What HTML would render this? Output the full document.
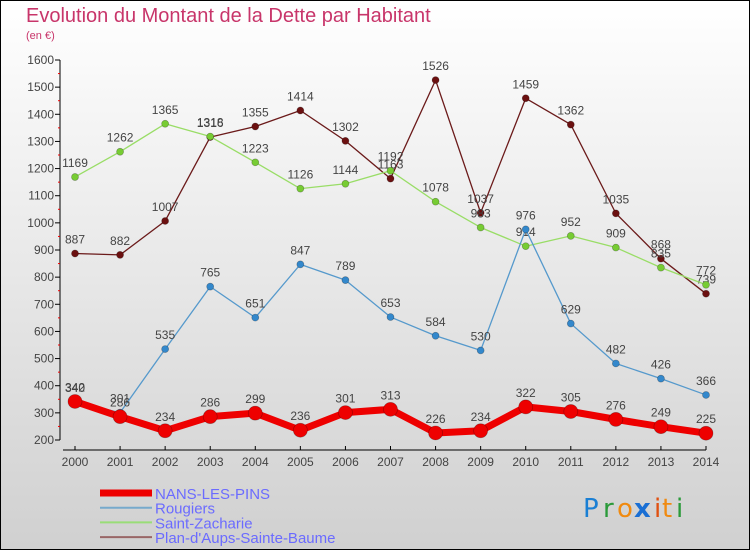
<!DOCTYPE html>
<html><head><meta charset="utf-8"><style>
html,body{margin:0;padding:0}
body{width:750px;height:550px;overflow:hidden;font-family:"Liberation Sans",sans-serif}
</style></head><body>
<svg id="c" width="750" height="550" xmlns="http://www.w3.org/2000/svg">
<defs><linearGradient id="bg" x1="0" y1="0" x2="0" y2="1"><stop offset="0" stop-color="#ffffff"/><stop offset="1" stop-color="#d0d0d0"/></linearGradient></defs>
<rect x="0.5" y="0.5" width="749" height="549" fill="url(#bg)" stroke="#000"/>
<text x="26" y="22" font-size="20" fill="#c8356a">Evolution du Montant de la Dette par Habitant</text>
<text x="26" y="39" font-size="11" fill="#c8356a">(en €)</text>
<g id="axes"></g><g id="series"></g><g id="legend"></g>
<g font-size="26" font-family="'DejaVu Sans',sans-serif">
<text x="583" y="517" fill="#1a7fd4">P</text><text x="603" y="517" fill="#2a9a3a">r</text><text x="617" y="517" fill="#f08a10">o</text><text x="634" y="517" fill="#1a6fd4" font-weight="bold">x</text><text x="654" y="517" fill="#e05010">i</text><text x="662" y="517" fill="#f08a10">t</text><text x="676" y="517" fill="#2a9a3a">i</text>
</g>
</svg>
<script>
const years=[2000,2001,2002,2003,2004,2005,2006,2007,2008,2009,2010,2011,2012,2013,2014];
const yTicks=[200,300,400,500,600,700,800,900,1000,1100,1200,1300,1400,1500,1600];
const nans=[342,286,234,286,299,236,301,313,226,234,322,305,276,249,225];
const rougiers=[340,301,535,765,651,847,789,653,584,530,976,629,482,426,366];
const stZacharie=[1169,1262,1365,1318,1223,1126,1144,1192,1078,983,914,952,909,835,772];
const planAups=[887,882,1007,1316,1355,1414,1302,1163,1526,1037,1459,1362,1035,868,739];
const NS="http://www.w3.org/2000/svg";
const X=i=>75+i*(706-75)/14;
const Y=v=>440-(v-200)*(380/1400);
function mk(t,a,p){const e=document.createElementNS(NS,t);for(const k in a)e.setAttribute(k,a[k]);p.appendChild(e);return e;}
const ax=document.getElementById('axes');
let yl=mk('line',{x1:60,y1:60,x2:60,y2:440,stroke:'#000'},ax);


yTicks.forEach(v=>{
 mk('line',{x1:55,y1:Y(v),x2:60,y2:Y(v),stroke:'#000'},ax);
 if(v<1600) mk('line',{x1:58,y1:Y(v+50),x2:60,y2:Y(v+50),stroke:'#e00'},ax);
 const t=mk('text',{x:54,y:Y(v)+4,'text-anchor':'end','font-size':12,fill:'#444'},ax);t.textContent=v;
 
 
});
let xl=mk('line',{x1:63,y1:450,x2:706,y2:450,stroke:'#000'},ax);


years.forEach((y,i)=>{
 mk('line',{x1:X(i),y1:446,x2:X(i),y2:450,stroke:'#000'},ax);
 const t=mk('text',{x:X(i),y:466,'text-anchor':'middle','font-size':12,fill:'#444'},ax);t.textContent=y;
 
 
});
const sg=document.getElementById('series');
function series(vals,color,w,r,name,fill){
 const g=mk('g',{},sg);
 
 
 mk('polyline',{points:vals.map((v,i)=>X(i)+','+Y(v)).join(' '),fill:'none',stroke:color,'stroke-width':w,'stroke-linejoin':'round'},g);
 vals.forEach((v,i)=>{
  const c=mk('circle',{cx:X(i),cy:Y(v),r:r,fill:fill,stroke:'rgba(0,0,0,0.3)','stroke-width':0.7},g);
  
  
  const t=mk('text',{x:X(i),y:Y(v)-10,'text-anchor':'middle','font-size':12,fill:'#444'},g);t.textContent=v;
 });
}
series(planAups,'#6b1a1a',1.3,3.5,'series-plan-aups','#6b1010');
series(stZacharie,'#99dd66',1.3,3.5,'series-saint-zacharie','#77cc33');
series(rougiers,'#5599cc',1.3,3.5,'series-rougiers','#3388cc');
series(nans,'#ee0000',7,7,'series-nans-les-pins','#ee0000');
const lg=document.getElementById('legend');
const leg=[['NANS-LES-PINS','#ee0000',7],['Rougiers','#77aacc',2],['Saint-Zacharie','#99dd77',2],['Plan-d\'Aups-Sainte-Baume','#996666',2]];
leg.forEach((l,i)=>{
 const g=mk('g',{},lg);
 
 
 const y=493+i*14.7;
 mk('line',{x1:100,y1:y,x2:152,y2:y,stroke:l[1],'stroke-width':l[2]},g);
 const t=mk('text',{x:155,y:y+6,'font-size':15,fill:'#6b6bff'},g);t.textContent=l[0];
});
</script>
</body></html>
